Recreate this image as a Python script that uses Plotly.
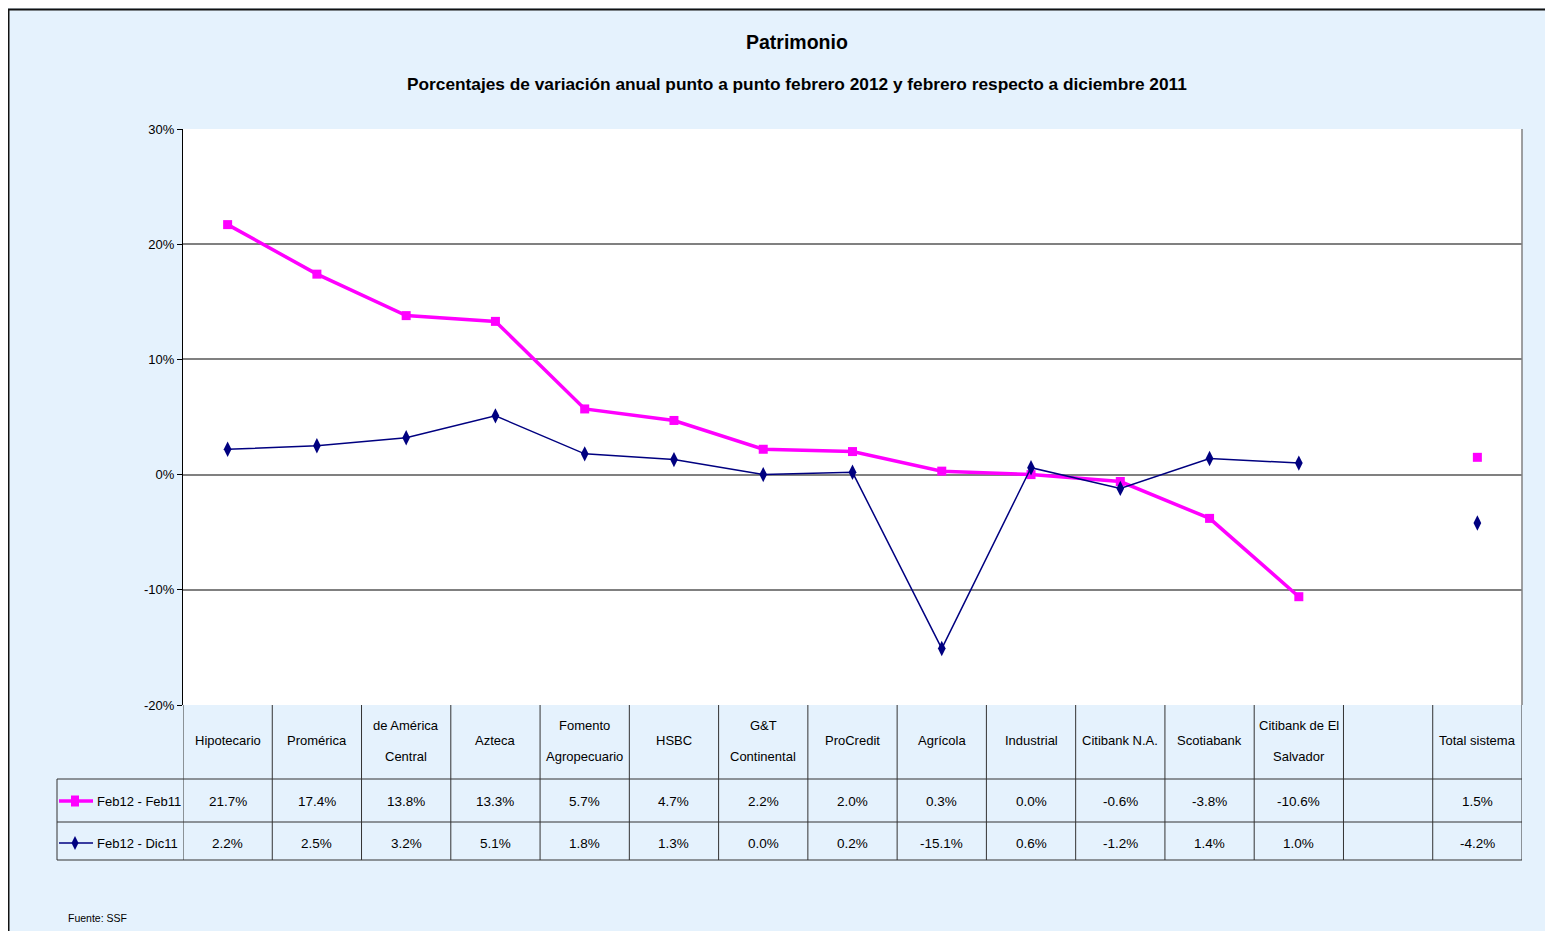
import plotly.graph_objects as go

categories = ["Hipotecario", "Promérica", "de América\nCentral", "Azteca",
              "Fomento\nAgropecuario", "HSBC", "G&T\nContinental", "ProCredit",
              "Agrícola", "Industrial", "Citibank N.A.", "Scotiabank",
              "Citibank de El\nSalvador", "", "Total sistema"]
feb12_feb11 = [21.7, 17.4, 13.8, 13.3, 5.7, 4.7, 2.2, 2.0, 0.3, 0.0, -0.6, -3.8, -10.6, None, 1.5]
feb12_dic11 = [2.2, 2.5, 3.2, 5.1, 1.8, 1.3, 0.0, 0.2, -15.1, 0.6, -1.2, 1.4, 1.0, None, -4.2]
series_names = ["Feb12 - Feb11", "Feb12 - Dic11"]
y_ticks = [-20, -10, 0, 10, 20, 30]

FONT = "Liberation Sans, Arial, sans-serif"
OFF = 8  # page body margin
W, H = 1553 - OFF, 931 - OFF
# plot area in page pixel coordinates
L, R, T, B = 183, 1522, 129, 705
MAGENTA = "#ff00ff"
NAVY = "#000080"
LINEC = "#333333"

def px_x(p):
    return (p - L) / (R - L)

def px_y(p):
    return (B - p) / (B - T)

n = len(categories)
xs = list(range(n))

fig = go.Figure()
fig.add_trace(go.Scatter(x=xs, y=feb12_feb11, mode="lines+markers", name=series_names[0],
                         line=dict(color=MAGENTA, width=3.5),
                         marker=dict(symbol="square", size=9, color=MAGENTA),
                         connectgaps=False, showlegend=False))
fig.add_trace(go.Scatter(x=xs, y=feb12_dic11, mode="lines+markers", name=series_names[1],
                         line=dict(color=NAVY, width=1.5),
                         marker=dict(symbol="diamond-tall", size=11, color=NAVY),
                         connectgaps=False, showlegend=False))

shapes = []
annotations = []

y_hdr_bot = px_y(779)
y_r1_bot = px_y(822)
y_r2_bot = px_y(860)
x_leg_left = px_x(57)

# table vertical lines
for k in range(n + 1):
    shapes.append(dict(type="line", xref="x", yref="paper", x0=k - 0.5, x1=k - 0.5,
                       y0=0, y1=y_r2_bot,
                       line=dict(color=LINEC, width=1)))
# horizontal lines
for yy in (y_hdr_bot, y_r1_bot, y_r2_bot):
    shapes.append(dict(type="line", xref="paper", yref="paper", x0=x_leg_left, x1=1,
                       y0=yy, y1=yy, line=dict(color=LINEC, width=1)))
shapes.append(dict(type="line", xref="paper", yref="paper", x0=x_leg_left, x1=x_leg_left,
                   y0=y_hdr_bot, y1=y_r2_bot, line=dict(color=LINEC, width=1)))
# right plot border
shapes.append(dict(type="line", xref="paper", yref="paper", x0=1, x1=1, y0=0, y1=1,
                   line=dict(color="#808080", width=1.5)))
# outer chart border (top & left)
shapes.append(dict(type="line", xref="paper", yref="paper", x0=px_x(7), x1=px_x(1560),
                   y0=px_y(9.5), y1=px_y(9.5), line=dict(color="#111111", width=2)))
shapes.append(dict(type="line", xref="paper", yref="paper", x0=px_x(8.5), x1=px_x(8.5),
                   y0=px_y(9), y1=px_y(940), line=dict(color="#111111", width=2)))

# header labels
for i, c in enumerate(categories):
    if not c:
        continue
    lines = c.split("\n")
    ys = [740] if len(lines) == 1 else [725, 756]
    for ln, yp in zip(lines, ys):
        annotations.append(dict(x=i, y=px_y(yp), xref="x", yref="paper", text=ln,
                                showarrow=False, font=dict(family=FONT, size=13, color="black"),
                                xanchor="center", yanchor="middle"))

# value rows
for vals, yp in ((feb12_feb11, 801), (feb12_dic11, 843)):
    for i, v in enumerate(vals):
        if v is None:
            continue
        annotations.append(dict(x=i, y=px_y(yp), xref="x", yref="paper", text=f"{v:.1f}%",
                                showarrow=False, font=dict(family=FONT, size=13.5, color="black"),
                                xanchor="center", yanchor="middle"))

# legend keys
for name, yp, col, wid, kind in ((series_names[0], 801, MAGENTA, 3.5, "sq"),
                                 (series_names[1], 843, NAVY, 1.5, "dia")):
    shapes.append(dict(type="line", xref="paper", yref="paper", x0=px_x(59), x1=px_x(93),
                       y0=px_y(yp), y1=px_y(yp), line=dict(color=col, width=wid)))
    if kind == "sq":
        shapes.append(dict(type="rect", xref="paper", yref="paper", x0=px_x(71), x1=px_x(79),
                           y0=px_y(yp - 5.5), y1=px_y(yp + 5.5), fillcolor=col,
                           line=dict(color=col, width=0)))
    else:
        path = (f"M {px_x(75)} {px_y(yp - 7)} L {px_x(78.5)} {px_y(yp)} "
                f"L {px_x(75)} {px_y(yp + 7)} L {px_x(71.5)} {px_y(yp)} Z")
        shapes.append(dict(type="path", xref="paper", yref="paper", path=path,
                           fillcolor=col, line=dict(color=col, width=0)))
    annotations.append(dict(x=px_x(95), y=px_y(yp), xref="paper", yref="paper", text=name,
                            showarrow=False, font=dict(family=FONT, size=13, color="black"),
                            xanchor="left", yanchor="middle"))

# titles
annotations.append(dict(x=px_x(797), y=px_y(42), xref="paper", yref="paper", text="<b>Patrimonio</b>",
                        showarrow=False, font=dict(family=FONT, size=19.5, color="black"),
                        xanchor="center", yanchor="middle"))
annotations.append(dict(x=px_x(797), y=px_y(84), xref="paper", yref="paper",
                        text="<b>Porcentajes de variación anual punto a punto febrero 2012 y febrero respecto a diciembre 2011</b>",
                        showarrow=False, font=dict(family=FONT, size=17.3, color="black"),
                        xanchor="center", yanchor="middle"))
annotations.append(dict(x=px_x(66), y=px_y(918), xref="paper", yref="paper", text="Fuente: SSF",
                        showarrow=False, font=dict(family=FONT, size=10.5, color="black"),
                        xanchor="left", yanchor="middle"))

fig.update_layout(
    width=W, height=H,
    margin=dict(l=L - OFF, r=1553 - R, t=T - OFF, b=931 - B, pad=0),
    paper_bgcolor="#e5f2fd",
    plot_bgcolor="white",
    shapes=shapes,
    annotations=annotations,
    showlegend=False,
    xaxis=dict(range=[-0.5, n - 0.5], showticklabels=False, showgrid=False, zeroline=False,
               ticks="", showline=False, fixedrange=True),
    yaxis=dict(range=[-20, 30], tickvals=y_ticks, ticktext=[f"{t}%" for t in y_ticks],
               showgrid=True, gridcolor="#808080", gridwidth=1.5, zeroline=False,
               showline=True, linecolor="black", linewidth=1, ticks="outside", ticklen=5,
               tickcolor="black", tickfont=dict(family=FONT, size=13, color="black")),
)

fig.write_html("out.html")
